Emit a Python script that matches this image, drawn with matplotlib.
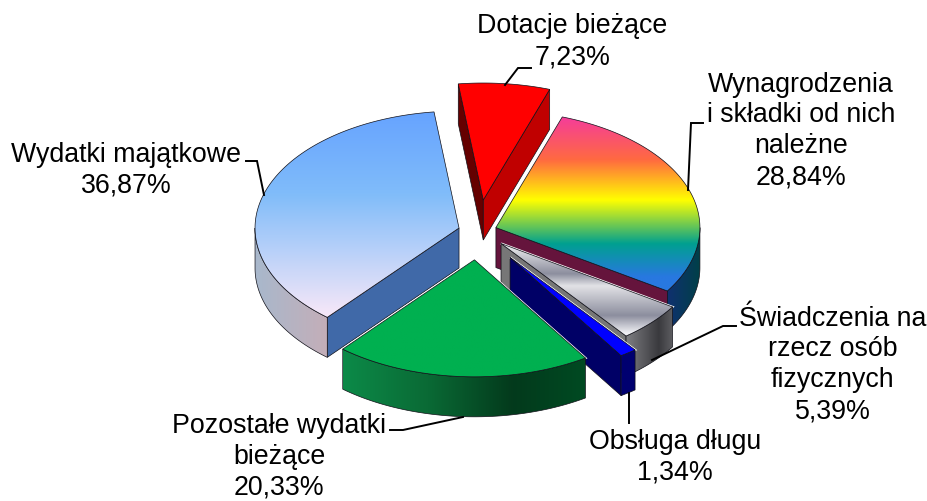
import numpy as np
import matplotlib
matplotlib.use("Agg")
import matplotlib.pyplot as plt
from matplotlib.colors import LinearSegmentedColormap
from matplotlib.patches import Polygon

plt.rcParams['font.family'] = ['Liberation Sans', 'DejaVu Sans']

## data, clockwise from the first slice
categories = ["Dotacje bieżące", "Wynagrodzenia\ni składki od nich\nnależne", "Świadczenia na\nrzecz osób\nfizycznych",
              "Obsługa długu", "Pozostałe wydatki\nbieżące", "Wydatki majątkowe"]
values = [7.23, 28.84, 5.39, 1.34, 20.33, 36.87]

## pie layout (pixels of the 928x501 picture)
first_angle = -7.04
explode = [0.268, 0.095, 0.156, 0.275, 0.245, 0.095]
cx, cy = 477.6, 231.2
rx, ry = 204, 117
depth = 40

## colours, same order as the data: top face stops, rim stops, cut face at start and end of the slice
top_colors = [
    [(0, "#ff0000"), (1, "#ff0000")],
    [(0, "#f53c9c"), (0.25, "#ff6a40"), (0.48, "#ffff00"), (0.73, "#00a090"), (0.92, "#2878e0"), (1, "#2878e0")],
    [(0, "#f4f4f4"), (0.33, "#8c8e9e"), (0.46, "#e2e2e6"), (0.78, "#8c8e9e"), (0.97, "#f0f0f4"), (1, "#f0f0f4")],
    [(0, "#0000ff"), (1, "#0000ff")],
    [(0, "#00b050"), (1, "#00b050")],
    [(0, "#66a3ff"), (0.4, "#80bcfa"), (1, "#f8e8f8")],
]
rim_colors = [
    None,
    [(0, "#103070"), (1, "#004048")],
    [(0, "#808084"), (0.3, "#606064"), (0.7, "#3a3a3e"), (1, "#5e5e62")],
    [(0, "#000070"), (1, "#000070")],
    [(0, "#0c8a48"), (0.35, "#0a6a35"), (0.7, "#033a1c"), (1, "#004a22")],
    [(0, "#a8b8cc"), (1, "#c4aeb8")],
]
start_cut = ["#650000", None, None, None, None, "#4069a8"]
end_cut = ["#c00000", "#65143c", "#777777", "#000066", None, None]

## leader lines and where the labels sit (x centre, baseline of last line)
leaders = [
    [(505, 85), (518, 68), (531, 68)],
    [(688, 190), (691, 123), (703, 123)],
    [(652, 360), (723, 326), (736, 326)],
    [(629, 393), (629, 423)],
    [(463, 417), (403, 430), (390, 430)],
    [(264, 195), (257, 161), (246, 161)],
]
label_pos = [(572.5, 64), (801, 184), (832.5, 418), (675, 479.5), (279, 495), (126, 192.5)]

fig = plt.figure(figsize=(9.28, 5.01), dpi=100)
ax = fig.add_axes([0, 0, 1, 1])
ax.axis("off")


def point(x0, y0, angle):
    a = np.radians(angle)
    return x0 + rx * np.sin(a), y0 - ry * np.cos(a)


def gradient(verts, stops, vertical, z):
    xs = [v[0] for v in verts]
    ys = [v[1] for v in verts]
    cmap = LinearSegmentedColormap.from_list("g", stops)
    ramp = np.linspace(0, 1, 256)
    ramp = ramp.reshape(256, 1) if vertical else ramp.reshape(1, 256)
    im = ax.imshow(ramp, extent=(min(xs), max(xs), max(ys), min(ys)), aspect="auto", cmap=cmap,
                   vmin=0, vmax=1, interpolation="bilinear", zorder=z)
    im.set_clip_path(Polygon(verts, closed=True, transform=ax.transData))
    ax.add_patch(Polygon(verts, closed=True, fill=False, edgecolor="#101018", linewidth=0.5, zorder=z))


def flat(verts, color, z):
    ax.add_patch(Polygon(verts, closed=True, facecolor=color, edgecolor="#101018", linewidth=0.5, zorder=z))


## painter's order: back slices first, the green one last
order = [5, 0, 1, 2, 3, 4]
shares = np.array(values) / sum(values) * 360
starts = first_angle + np.concatenate(([0], np.cumsum(shares)[:-1]))

z = 2
for i in order:
    a, b = starts[i], starts[i] + shares[i]
    mid = np.radians((a + b) / 2)
    x0 = cx + explode[i] * rx * np.sin(mid)
    y0 = cy - explode[i] * ry * np.cos(mid)

    ang = np.linspace(a, b, 120)
    top = [(x0, y0)] + [point(x0, y0, t) for t in ang]
    ax.add_patch(Polygon(top, closed=True, facecolor="none", edgecolor="white", linewidth=1.6, zorder=z))
    z += 1

    if start_cut[i]:
        p = point(x0, y0, a)
        flat([(x0, y0), p, (p[0], p[1] + depth), (x0, y0 + depth)], start_cut[i], z)
        z += 1
    if end_cut[i]:
        p = point(x0, y0, b)
        flat([(x0, y0), p, (p[0], p[1] + depth), (x0, y0 + depth)], end_cut[i], z)
        z += 1

    ## rim only shows on the front half
    lo, hi = max(a, 90), min(b, 270)
    if rim_colors[i] and hi > lo:
        arc = [point(x0, y0, t) for t in np.linspace(lo, hi, 100)]
        rim = arc + [(p[0], p[1] + depth) for p in arc[::-1]]
        gradient(rim, rim_colors[i], False, z)
        z += 1

    gradient(top, top_colors[i], True, z)
    z += 1

for i in range(len(values)):
    xs = [p[0] for p in leaders[i]]
    ys = [p[1] for p in leaders[i]]
    ax.plot(xs, ys, color="black", linewidth=1.4, solid_joinstyle="miter", zorder=z)
    label = categories[i] + "\n" + f"{values[i]:.2f}%".replace(".", ",")
    ax.text(label_pos[i][0], label_pos[i][1], label, ha="center", va="baseline", fontsize=19.3,
            linespacing=1.24, color="black", zorder=z)

ax.set_xlim(0, 928)
ax.set_ylim(501, 0)
fig.savefig("out.png", dpi=100, facecolor="white")
